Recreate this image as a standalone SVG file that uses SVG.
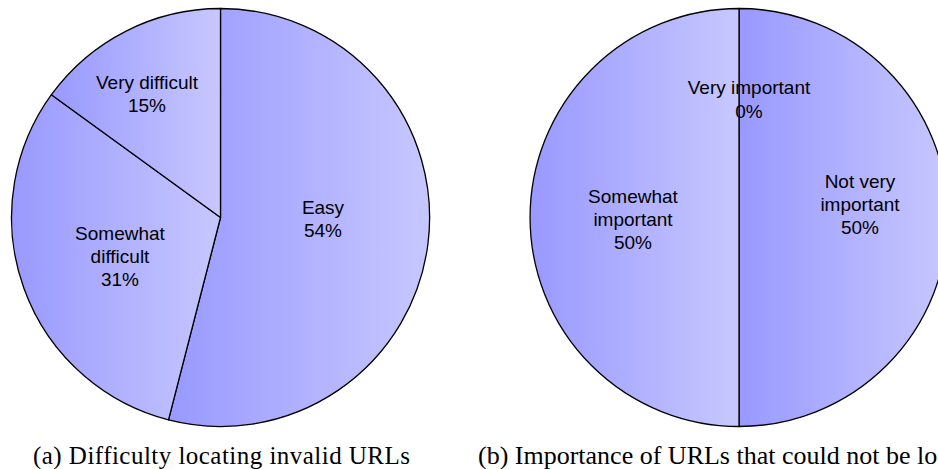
<svg xmlns="http://www.w3.org/2000/svg" width="938" height="469" viewBox="0 0 938 469">
<style>
.sl{stroke:#000;stroke-width:1.3;fill:url(#g);stroke-linejoin:round}
.lb{font-family:"Liberation Sans",Arial,sans-serif;font-size:19px;fill:#000;text-anchor:middle}
.cap{font-family:"Liberation Serif","Times New Roman",serif;font-size:25px;fill:#000}
</style>
<defs>
<linearGradient id="g" x1="0" y1="0" x2="1" y2="0">
<stop offset="0" stop-color="#9999ff"/>
<stop offset="1" stop-color="#c7c7ff"/>
</linearGradient>
</defs>
<rect width="938" height="469" fill="#fff"/>
<g id="pie-a">
<g id="easy"><path class="sl" d="M220.5,217.5 L220.5,8.5 A209,209 0 1 1 168.5,419.9 Z"/>
<text class="lb" x="323" y="214">Easy</text><text class="lb" x="323" y="237">54%</text></g>
<g id="somewhat-difficult"><path class="sl" d="M220.5,217.5 L168.5,419.9 A209,209 0 0 1 51.4,94.7 Z"/>
<text class="lb" x="120" y="240">Somewhat</text><text class="lb" x="120" y="263">difficult</text><text class="lb" x="120" y="286">31%</text></g>
<g id="very-difficult"><path class="sl" d="M220.5,217.5 L51.4,94.7 A209,209 0 0 1 220.5,8.5 Z"/>
<text class="lb" x="147" y="89">Very difficult</text><text class="lb" x="147" y="112">15%</text></g>
</g>
<g id="pie-b">
<g id="not-very-important"><path class="sl" d="M739,217.5 L739,8.5 A209,209 0 0 1 739,426.5 Z"/></g>
<g id="somewhat-important"><path class="sl" d="M739,217.5 L739,426.5 A209,209 0 0 1 739,8.5 Z"/></g>
<g id="very-important"><text class="lb" x="749" y="94">Very important</text><text class="lb" x="749" y="118">0%</text></g>
<text class="lb" x="860" y="188">Not very</text><text class="lb" x="860" y="211">important</text><text class="lb" x="860" y="234">50%</text>
<text class="lb" x="633" y="203">Somewhat</text><text class="lb" x="633" y="226">important</text><text class="lb" x="633" y="249">50%</text>
</g>
<g id="connectors"/>
<text class="cap" x="33" y="464" textLength="377">(a) Difficulty locating invalid URLs</text>
<text class="cap" x="478" y="464" style="font-size:26px">(b) Importance of URLs that could not be located</text>
</svg>
